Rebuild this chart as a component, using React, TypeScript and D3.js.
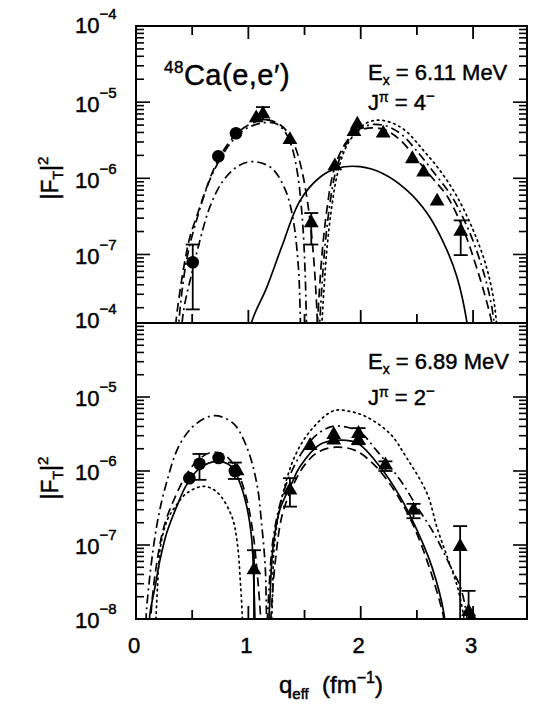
import React from 'react';
import * as d3 from 'd3';

type Pt = [number, number];
type DataPt = { q: number; v: number; hi?: number; lo?: number };

// ---------- axis / tick data ----------
const xTickValues = [0, 0.5, 1, 1.5, 2, 2.5, 3];
const xTickLabels = ['0', '1', '2', '3'];
const topTickExps = [-4, -5, -6, -7];
const topBottomLabel = '\u22124';
const botTickExps = [-5, -6, -7, -8];

// ---------- top panel (Ex = 6.11 MeV, 4-) ----------
const topCircles: DataPt[] = [
  { q: 0.505, v: 7.9e-8, hi: 1.35e-7, lo: 1.9e-8 },
  { q: 0.733, v: 1.95e-6 },
  { q: 0.89, v: 3.9e-6 },
];
const topTriangles: DataPt[] = [
  { q: 1.07, v: 6.2e-6 },
  { q: 1.13, v: 7.0e-6, hi: 8.6e-6, lo: 5.9e-6 },
  { q: 1.37, v: 3.2e-6 },
  { q: 1.56, v: 2.6e-7, hi: 3.5e-7, lo: 1.35e-7 },
  { q: 1.77, v: 1.45e-6 },
  { q: 1.94, v: 4.1e-6 },
  { q: 1.97, v: 5.1e-6 },
  { q: 2.2, v: 3.9e-6 },
  { q: 2.46, v: 1.8e-6 },
  { q: 2.56, v: 1.2e-6 },
  { q: 2.68, v: 5.0e-7 },
  { q: 2.89, v: 2.0e-7, hi: 2.8e-7, lo: 9.8e-8 },
];
const topDashedL: Pt[] = [
  [0.33, 5e-9], [0.36, 1.5e-8], [0.40, 4e-8], [0.44, 9e-8], [0.48, 1.7e-7], [0.55, 3.5e-7],
  [0.62, 7e-7], [0.70, 1.4e-6], [0.80, 2.6e-6], [0.90, 3.9e-6], [1.00, 5.0e-6], [1.10, 5.7e-6],
  [1.18, 5.8e-6], [1.26, 5.3e-6], [1.34, 4.2e-6], [1.42, 2.5e-6], [1.48, 1.2e-6], [1.53, 4.5e-7],
  [1.57, 1.4e-7], [1.60, 3.5e-8], [1.62, 8e-9], [1.63, 3e-9],
];
const topDashDotUpperL: Pt[] = [
  [0.36, 5e-9], [0.40, 2.5e-8], [0.46, 1e-7], [0.55, 3.2e-7], [0.65, 9e-7], [0.75, 1.8e-6],
  [0.85, 3e-6], [0.95, 4.2e-6], [1.05, 5e-6], [1.15, 5.4e-6], [1.25, 5.2e-6], [1.33, 4.0e-6],
  [1.39, 2.5e-6], [1.44, 1.1e-6], [1.48, 3e-7], [1.505, 6e-8], [1.52, 8e-9], [1.53, 3e-9],
];
const topDashDotLowerL: Pt[] = [
  [0.39, 4e-9], [0.42, 1.7e-8], [0.496, 5.6e-8], [0.57, 1.55e-7], [0.66, 4.3e-7], [0.78, 9.5e-7],
  [0.926, 1.5e-6], [1.06, 1.65e-6], [1.21, 1.35e-6], [1.33, 7e-7], [1.40, 2.8e-7], [1.445, 6.9e-8],
  [1.46, 2e-8], [1.47, 4e-9],
];
const topSolidR: Pt[] = [
  [1.0, 6e-9], [1.03, 1.3e-8], [1.164, 3.7e-8], [1.297, 1.26e-7], [1.46, 5.1e-7], [1.64, 1.04e-6],
  [1.787, 1.35e-6], [1.995, 1.42e-6], [2.2, 1.15e-6], [2.41, 7e-7], [2.59, 3.5e-7], [2.74, 1.4e-7],
  [2.856, 5.1e-8], [2.945, 1.3e-8], [2.97, 6e-9],
];
const topDashedR: Pt[] = [
  [1.60, 5e-9], [1.63, 3e-8], [1.66, 1.2e-7], [1.70, 4e-7], [1.75, 1.1e-6], [1.82, 2.2e-6],
  [1.90, 3.4e-6], [2.00, 4.3e-6], [2.10, 4.6e-6], [2.22, 4.3e-6], [2.35, 3.2e-6], [2.51, 1.7e-6],
  [2.64, 1.0e-6], [2.77, 5.8e-7], [2.915, 2.1e-7], [3.02, 7.6e-8], [3.11, 2.75e-8], [3.17, 1.2e-8],
  [3.2, 5e-9],
];
const topDashDotR: Pt[] = [
  [1.62, 5e-9], [1.65, 3e-8], [1.68, 1.2e-7], [1.72, 4e-7], [1.77, 1.1e-6], [1.84, 2.3e-6],
  [1.92, 3.6e-6], [2.02, 4.7e-6], [2.12, 5.1e-6], [2.24, 4.8e-6], [2.37, 3.7e-6], [2.52, 2.1e-6],
  [2.67, 1.1e-6], [2.81, 5.8e-7], [2.96, 2.1e-7], [3.07, 7.6e-8], [3.15, 2.75e-8], [3.19, 1.2e-8],
  [3.22, 5e-9],
];
const topDottedR: Pt[] = [
  [1.64, 5e-9], [1.67, 3e-8], [1.70, 1.2e-7], [1.74, 4e-7], [1.79, 1.1e-6], [1.86, 2.4e-6],
  [1.95, 3.9e-6], [2.05, 5.3e-6], [2.15, 5.8e-6], [2.27, 5.4e-6], [2.40, 4.2e-6], [2.55, 2.4e-6],
  [2.70, 1.3e-6], [2.856, 5.8e-7], [3.0, 2.1e-7], [3.11, 7.6e-8], [3.18, 2.75e-8], [3.21, 1.2e-8],
  [3.23, 5e-9],
];

// ---------- bottom panel (Ex = 6.89 MeV, 2-) ----------
const botCircles: DataPt[] = [
  { q: 0.475, v: 8e-7 },
  { q: 0.565, v: 1.25e-6, hi: 1.7e-6, lo: 7.6e-7 },
  { q: 0.735, v: 1.5e-6 },
  { q: 0.88, v: 1.0e-6, hi: 1.3e-6, lo: 7.8e-7 },
];
const botTriangles: DataPt[] = [
  { q: 0.9, v: 1.0e-6 },
  { q: 1.05, v: 4.6e-8, hi: 8.5e-8, lo: 1e-9 },
  { q: 1.37, v: 5.5e-7, hi: 8e-7, lo: 3.3e-7 },
  { q: 1.55, v: 2.2e-6 },
  { q: 1.76, v: 3.1e-6 },
  { q: 1.76, v: 2.6e-6 },
  { q: 1.98, v: 3.2e-6, hi: 3.8e-6, lo: 2.3e-6 },
  { q: 1.98, v: 2.6e-6 },
  { q: 2.22, v: 1.2e-6, hi: 1.35e-6, lo: 1.0e-6 },
  { q: 2.47, v: 2.95e-7, hi: 3.6e-7, lo: 2.3e-7 },
  { q: 2.885, v: 9.5e-8, hi: 1.8e-7, lo: 1e-9 },
  { q: 2.96, v: 1.25e-8, hi: 2.4e-8, lo: 1e-9 },
  { q: 2.99, v: 1.0e-8 },
];
const botSolidL: Pt[] = [
  [0.11, 6e-9], [0.125, 1.2e-8], [0.17, 2.75e-8], [0.214, 6.3e-8], [0.273, 1.45e-7], [0.362, 3.3e-7],
  [0.45, 6.5e-7], [0.57, 1.1e-6], [0.72, 1.35e-6], [0.85, 1.15e-6], [0.926, 6.8e-7], [0.986, 3.3e-7],
  [1.03, 1.2e-7], [1.05, 2.75e-8], [1.06, 8e-9], [1.065, 3e-9],
];
const botSolidR: Pt[] = [
  [1.17, 4e-9], [1.19, 1.6e-8], [1.22, 9.5e-8], [1.28, 3e-7], [1.386, 6.8e-7], [1.46, 1.15e-6],
  [1.64, 2.3e-6], [1.79, 2.6e-6], [1.965, 2.4e-6], [2.17, 1.15e-6], [2.35, 4.5e-7], [2.5, 1.6e-7],
  [2.633, 5.1e-8], [2.74, 1.2e-8], [2.76, 5e-9],
];
const botDashedL: Pt[] = [
  [0.12, 5e-9], [0.13, 1e-8], [0.17, 4e-8], [0.25, 1.8e-7], [0.35, 4.5e-7], [0.45, 9e-7],
  [0.55, 1.4e-6], [0.68, 1.8e-6], [0.8, 1.6e-6], [0.9, 1.0e-6], [0.98, 4.5e-7], [1.04, 1.5e-7],
  [1.08, 4e-8], [1.11, 1e-8], [1.12, 4e-9],
];
const botDashedR: Pt[] = [
  [1.19, 4e-9], [1.20, 1e-8], [1.24, 6e-8], [1.3, 2.5e-7], [1.4, 6.5e-7], [1.5, 1.2e-6],
  [1.62, 1.8e-6], [1.78, 2.1e-6], [1.95, 1.9e-6], [2.1, 1.3e-6], [2.25, 7e-7], [2.4, 3e-7],
  [2.52, 1.2e-7], [2.62, 4.5e-8], [2.7, 1.8e-8], [2.74, 1e-8], [2.75, 5e-9],
];
const botDashDotL: Pt[] = [
  [0.085, 5e-9], [0.095, 1.4e-8], [0.184, 1.8e-7], [0.27, 6.8e-7], [0.39, 2.3e-6], [0.54, 4.4e-6],
  [0.70, 5.6e-6], [0.866, 4.4e-6], [0.986, 2.1e-6], [1.075, 6.8e-7], [1.12, 1.8e-7], [1.15, 5.1e-8],
  [1.16, 1.4e-8], [1.165, 5e-9],
];
const botDashDotR: Pt[] = [
  [1.16, 5e-9], [1.18, 2e-8], [1.22, 1.2e-7], [1.3, 4.5e-7], [1.4, 1.1e-6], [1.5, 2e-6],
  [1.62, 3.2e-6], [1.75, 4e-6], [1.88, 3.9e-6], [2.0, 3.3e-6], [2.14, 1.9e-6], [2.35, 7.6e-7],
  [2.5, 3.3e-7], [2.65, 1.45e-7], [2.8, 5.1e-8], [2.885, 2.75e-8], [2.94, 1.2e-8], [2.96, 5e-9],
];
const botDottedL: Pt[] = [
  [0.17, 5e-9], [0.19, 2.5e-8], [0.22, 1e-7], [0.28, 2.2e-7], [0.35, 3.3e-7], [0.45, 5e-7],
  [0.6, 6.2e-7], [0.72, 5.2e-7], [0.85, 2.5e-7], [0.9, 1.1e-7], [0.93, 3e-8], [0.95, 8e-9], [0.955, 4e-9],
];
const botDottedR: Pt[] = [
  [1.2, 5e-9], [1.215, 2e-8], [1.23, 9.3e-8], [1.295, 4.1e-7], [1.415, 1.6e-6], [1.566, 3.7e-6],
  [1.757, 6.5e-6], [1.9, 6.4e-6], [2.05, 5.4e-6], [2.26, 3.2e-6], [2.41, 1.5e-6], [2.59, 5e-7],
  [2.68, 1.7e-7], [2.77, 6.9e-8], [2.86, 2.75e-8], [2.92, 1e-8], [2.94, 5e-9],
];

// ---------- layout ----------
const W = 533;
const H = 704;
const LEFT = 136;
const RIGHT = 527;
const TOP_Y0 = 26;
const MID_Y = 323;
const BOT_Y1 = 619;
const FONT = "'Liberation Sans', Arial, Helvetica, sans-serif";
const TXT = { fontFamily: FONT, fill: '#000', stroke: '#000', strokeWidth: 0.45 };

const x = d3.scaleLinear().domain([0, 3.48]).range([LEFT, RIGHT]);
const yTop = d3.scaleLog().domain([Math.pow(10, -7.9), 1e-4]).range([MID_Y, TOP_Y0]);
const yBot = d3.scaleLog().domain([1e-8, 1e-4]).range([BOT_Y1, MID_Y]);

const DASH: Record<string, string | undefined> = {
  solid: undefined,
  dashed: '9,5',
  dashdot: '9,4,2,4',
  dotted: '1.6,4',
};

type Curve = { pts: Pt[]; style: keyof typeof DASH };

const topCurves: Curve[] = [
  { pts: topDashedL, style: 'dashed' },
  { pts: topDashDotUpperL, style: 'dashdot' },
  { pts: topDashDotLowerL, style: 'dashdot' },
  { pts: topSolidR, style: 'solid' },
  { pts: topDashedR, style: 'dashed' },
  { pts: topDashDotR, style: 'dashdot' },
  { pts: topDottedR, style: 'dotted' },
];
const botCurves: Curve[] = [
  { pts: botSolidL, style: 'solid' },
  { pts: botSolidR, style: 'solid' },
  { pts: botDashedL, style: 'dashed' },
  { pts: botDashedR, style: 'dashed' },
  { pts: botDashDotL, style: 'dashdot' },
  { pts: botDashDotR, style: 'dashdot' },
  { pts: botDottedL, style: 'dotted' },
  { pts: botDottedR, style: 'dotted' },
];

function Panel(props: {
  id: string;
  y: d3.ScaleLogarithmic<number, number>;
  y0: number;
  y1: number;
  curves: Curve[];
  circles: DataPt[];
  triangles: DataPt[];
  topTicks: boolean;
}) {
  const { id, y, y0, y1, curves, circles, triangles, topTicks } = props;
  const line = d3
    .line<Pt>()
    .x((d) => x(d[0]))
    .y((d) => y(d[1]))
    .curve(d3.curveCatmullRom.alpha(0.5));
  const [dlo, dhi] = y.domain();
  const minor: { v: number; major: boolean }[] = [];
  for (let e = -9; e <= -4; e++) {
    for (let k = 1; k <= 9; k++) {
      const v = k * Math.pow(10, e);
      if (v >= dlo * 0.999 && v <= dhi * 1.001) minor.push({ v, major: k === 1 });
    }
  }
  const tri = d3.symbol(d3.symbolTriangle, 95)() as string;
  const bars = [...circles, ...triangles].filter((d) => d.hi !== undefined);
  return (
    <g>
      <defs>
        <clipPath id={id}>
          <rect x={LEFT} y={y0} width={RIGHT - LEFT} height={y1 - y0} />
        </clipPath>
      </defs>
      {minor.map((t, i) => {
        const yy = y(t.v);
        const len = t.major ? 14 : 8;
        return (
          <g key={i} stroke="#000" strokeWidth={1.6}>
            <line x1={LEFT} x2={LEFT + len} y1={yy} y2={yy} />
            <line x1={RIGHT} x2={RIGHT - len} y1={yy} y2={yy} />
          </g>
        );
      })}
      {xTickValues.map((t, i) => {
        const len = Number.isInteger(t) ? 13 : 9;
        return (
          <g key={'x' + i} stroke="#000" strokeWidth={1.8}>
            <line x1={x(t)} x2={x(t)} y1={y1} y2={y1 - len} />
            {topTicks && <line x1={x(t)} x2={x(t)} y1={y0} y2={y0 + len} />}
          </g>
        );
      })}
      <g clipPath={`url(#${id})`}>
        {curves.map((c, i) => (
          <path
            key={'c' + i}
            d={line(c.pts) as string}
            fill="none"
            stroke="#000"
            strokeWidth={1.7}
            strokeDasharray={DASH[c.style]}
            strokeLinecap={c.style === 'dotted' ? 'round' : 'butt'}
          />
        ))}
        {bars.map((d, i) => (
          <g key={'e' + i} stroke="#000" strokeWidth={1.8}>
            <line x1={x(d.q)} x2={x(d.q)} y1={y(d.hi as number)} y2={y(d.lo as number)} />
            <line x1={x(d.q) - 7} x2={x(d.q) + 7} y1={y(d.hi as number)} y2={y(d.hi as number)} />
            <line x1={x(d.q) - 7} x2={x(d.q) + 7} y1={y(d.lo as number)} y2={y(d.lo as number)} />
          </g>
        ))}
        {circles.map((d, i) => (
          <circle key={'o' + i} cx={x(d.q)} cy={y(d.v)} r={6.3} fill="#000" />
        ))}
        {triangles.map((d, i) => (
          <path key={'t' + i} d={tri} transform={`translate(${x(d.q)},${y(d.v)})`} fill="#000" />
        ))}
      </g>
      <rect x={LEFT} y={y0} width={RIGHT - LEFT} height={y1 - y0} fill="none" stroke="#000" strokeWidth={2} />
    </g>
  );
}

function PowLabel(props: { y: number; exp: string; dy?: number }) {
  const base = props.y + (props.dy ?? 9);
  return (
    <text x={75} y={base} fontSize={22} {...TXT}>
      10
      <tspan dy={-14} fontSize={15}>
        {props.exp}
      </tspan>
    </text>
  );
}

const minus = (e: number) => '\u2212' + String(Math.abs(e));

export default function App() {
  return (
    <svg width={W} height={H} style={{ display: 'block', position: 'absolute', left: 0, top: 0, background: '#fff' }}>
      <rect x={0} y={0} width={W} height={H} fill="#fff" />
      <Panel id="clipTop" y={yTop} y0={TOP_Y0} y1={MID_Y} curves={topCurves} circles={topCircles} triangles={topTriangles} topTicks={true} />
      <Panel id="clipBot" y={yBot} y0={MID_Y} y1={BOT_Y1} curves={botCurves} circles={botCircles} triangles={botTriangles} topTicks={false} />

      {topTickExps.map((e, i) => (
        <PowLabel key={'tl' + i} y={yTop(Math.pow(10, e))} exp={minus(e)} dy={i === 0 ? 7 : 10} />
      ))}
      <PowLabel y={MID_Y} exp={topBottomLabel} dy={5} />
      {botTickExps.map((e, i) => (
        <PowLabel key={'bl' + i} y={yBot(Math.pow(10, e))} exp={minus(e)} dy={9} />
      ))}

      {xTickLabels.map((s, i) => (
        <text key={'xl' + i} x={x(i) - 2} y={653} textAnchor="middle" fontSize={22} {...TXT}>
          {s}
        </text>
      ))}

      {[178, 478].map((cy, i) => (
        <text key={'yt' + i} transform={`translate(58,${cy}) rotate(-90)`} textAnchor="middle" fontSize={23} {...TXT}>
          |F
          <tspan dy={5} fontSize={14}>T</tspan>
          <tspan dy={-5}>|</tspan>
          <tspan dy={-10} fontSize={15}>2</tspan>
        </text>
      ))}
      <text x={331} y={693} textAnchor="middle" fontSize={24} {...TXT}>
        q
        <tspan dy={6} fontSize={15}>eff</tspan>
        <tspan dy={-6}>{'\u00a0\u00a0(fm'}</tspan>
        <tspan dy={-10} fontSize={16}>{'\u22121'}</tspan>
        <tspan dy={10}>)</tspan>
      </text>

      <text x={164} y={85} fontSize={29} letterSpacing={0.5} {...TXT}>
        <tspan fontSize={17} dy={-12}>48</tspan>
        <tspan dy={12}>{'Ca(e,e\u2032)'}</tspan>
      </text>
      <text x={368} y={80} fontSize={22} {...TXT}>
        E<tspan dy={5} fontSize={14}>x</tspan>
        <tspan dy={-5}>{' = 6.11 MeV'}</tspan>
      </text>
      <text x={368} y={110} fontSize={22} {...TXT}>
        J<tspan dy={-8} fontSize={14}>{'\u03c0'}</tspan>
        <tspan dy={8}>{' = 4'}</tspan>
        <tspan dy={-9} fontSize={15}>{'\u2212'}</tspan>
      </text>
      <text x={368} y={369} fontSize={22} {...TXT}>
        E<tspan dy={5} fontSize={14}>x</tspan>
        <tspan dy={-5}>{' = 6.89 MeV'}</tspan>
      </text>
      <text x={368} y={405} fontSize={22} {...TXT}>
        J<tspan dy={-8} fontSize={14}>{'\u03c0'}</tspan>
        <tspan dy={8}>{' = 2'}</tspan>
        <tspan dy={-9} fontSize={15}>{'\u2212'}</tspan>
      </text>
    </svg>
  );
}
